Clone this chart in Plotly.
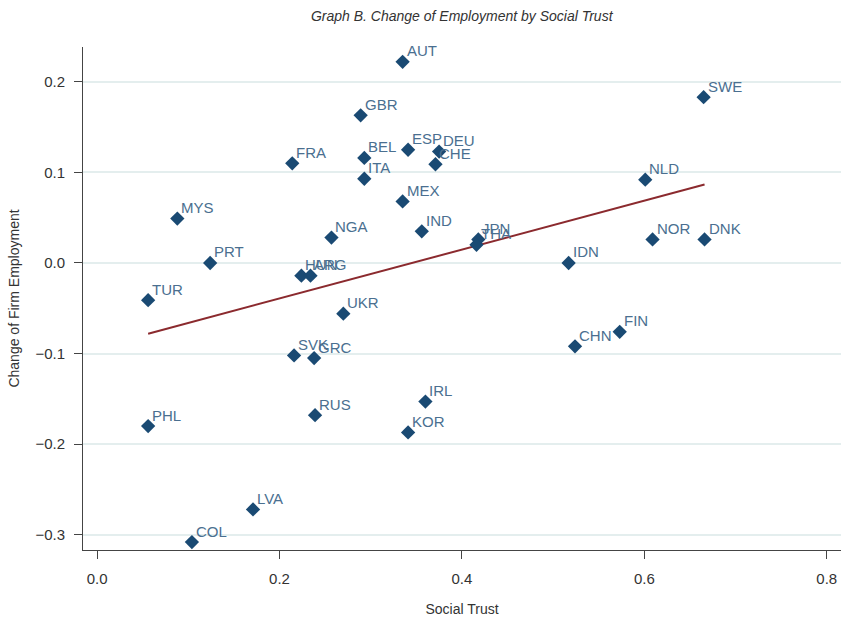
import numpy as np
import plotly.graph_objects as go

# country codes, social trust (x) and change of firm employment (y)
countries = ["AUT", "GBR", "SWE", "BEL", "ESP", "DEU", "FRA", "CHE", "ITA", "NLD",
             "MEX", "MYS", "IND", "NGA", "JPN", "THA", "NOR", "DNK", "PRT", "IDN",
             "HUN", "ARG", "TUR", "UKR", "FIN", "CHN", "SVK", "GRC", "IRL", "RUS",
             "PHL", "KOR", "LVA", "COL"]
trust = [0.335, 0.289, 0.665, 0.293, 0.341, 0.375, 0.214, 0.371, 0.293, 0.601,
         0.335, 0.088, 0.356, 0.257, 0.418, 0.416, 0.609, 0.666, 0.124, 0.517,
         0.224, 0.234, 0.056, 0.270, 0.573, 0.524, 0.216, 0.238, 0.360, 0.239,
         0.056, 0.341, 0.171, 0.104]
emp_change = [0.222, 0.163, 0.183, 0.116, 0.125, 0.123, 0.110, 0.109, 0.093, 0.092,
              0.068, 0.049, 0.035, 0.028, 0.026, 0.020, 0.026, 0.026, 0.000, 0.000,
              -0.014, -0.014, -0.041, -0.056, -0.076, -0.092, -0.102, -0.105, -0.153, -0.168,
              -0.180, -0.187, -0.272, -0.308]

x_ticks = [0.0, 0.2, 0.4, 0.6, 0.8]
y_ticks = [0.2, 0.1, 0.0, -0.1, -0.2, -0.3]

# linear fit
slope, intercept = np.polyfit(trust, emp_change, 1)
fit_x = np.array([min(trust), max(trust)])
fit_y = intercept + slope * fit_x

font_family = "Liberation Sans, Arial, Helvetica"

fig = go.Figure()
fig.add_trace(go.Scatter(x=fit_x, y=fit_y, mode="lines",
                         line=dict(color="#8b2a2e", width=2), showlegend=False))
fig.add_trace(go.Scatter(x=trust, y=emp_change, mode="markers",
                         marker=dict(symbol="diamond", size=11, color="#1a4a73"),
                         showlegend=False))

# country labels, up and right of each marker
for c, xv, yv in zip(countries, trust, emp_change):
    fig.add_annotation(x=xv, y=yv, text=c, showarrow=False,
                       xanchor="left", yanchor="middle", xshift=2, yshift=11,
                       font=dict(color="#4a6f90", size=15, family=font_family))

fig.update_layout(
    width=841, height=620,
    margin=dict(l=83, r=0, t=47, b=70),
    plot_bgcolor="white", paper_bgcolor="white",
    font=dict(family=font_family, color="#333333", size=15),
    title=dict(text="<i>Graph B. Change of Employment by Social Trust</i>",
               x=0.549, xanchor="center", y=0.974, yanchor="middle",
               font=dict(size=14, color="#333333")),
    xaxis=dict(range=[-0.0154, 0.8156], tickvals=x_ticks, tickformat=".1f",
               showgrid=False, zeroline=False, showline=True, linecolor="#444444",
               ticks="outside", ticklen=8, tickcolor="#444444", ticklabelstandoff=7,
               automargin=False,
               title=dict(text="Social Trust", standoff=18, font=dict(size=14))),
    yaxis=dict(range=[-0.3168, 0.2384], tickvals=y_ticks, tickformat=".1f",
               showgrid=True, gridcolor="#e4eeee", gridwidth=1.5, zeroline=False,
               showline=True, linecolor="#444444",
               ticks="outside", ticklen=8, tickcolor="#444444", ticklabelstandoff=6,
               automargin=False,
               title=dict(text="Change of Firm Employment", standoff=12, font=dict(size=14))),
)

# drop the default page margin so the figure fills the window exactly
fig.write_html("out.html", config={"displayModeBar": False},
               post_script="document.body.style.margin='0';")
